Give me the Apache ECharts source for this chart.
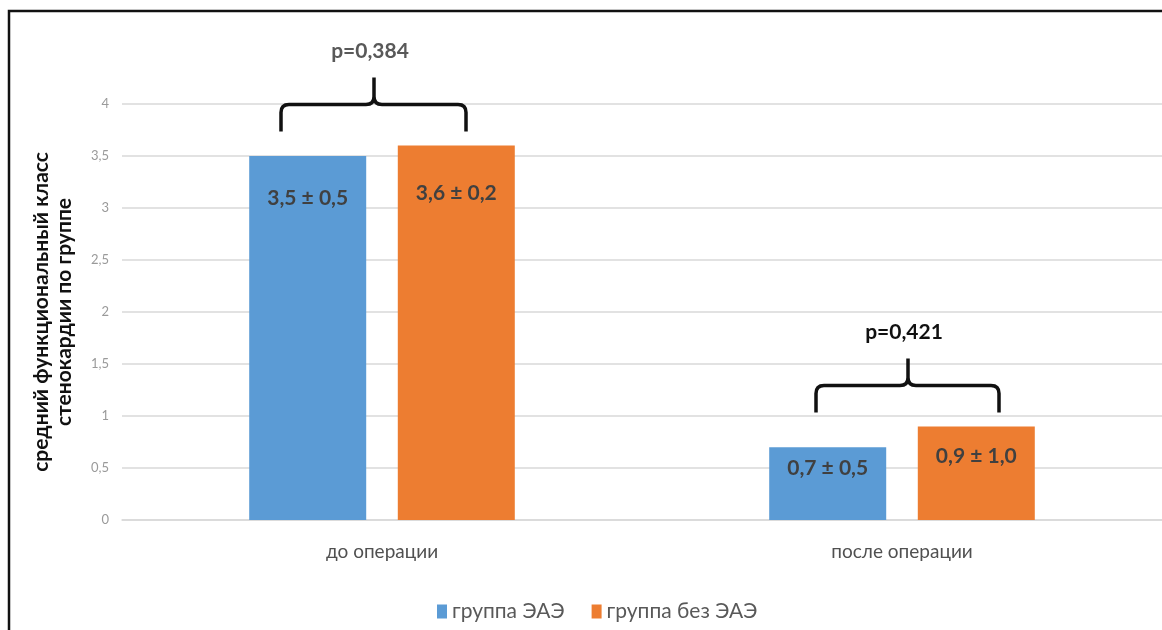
<!DOCTYPE html>
<html>
<head>
<meta charset="utf-8">
<script src="https://cdn.jsdelivr.net/npm/echarts@6/dist/echarts.min.js"></script>
<style>
  html, body { margin: 0; padding: 0; background: #ffffff; }
  #chart { width: 1162px; height: 630px; }
</style>
</head>
<body>
<div id="chart"></div>
<script>
// Mean angina functional class by group, before and after surgery
const categories = ['до операции', 'после операции'];
const seriesNames = ['группа ЭАЭ', 'группа без ЭАЭ'];
const meanEAE = [3.5, 0.7];
const sdEAE = [0.5, 0.5];
const meanNoEAE = [3.6, 0.9];
const sdNoEAE = [0.2, 1.0];
const pValues = [0.384, 0.421];
const yTicks = [0, 0.5, 1, 1.5, 2, 2.5, 3, 3.5, 4];

const FONT = 'Lato, "Open Sans", sans-serif';
const fmt = (v, d) => v.toFixed(d).replace('.', ',');

// label inset from the bar top, per category
const labelInset = [[32, 37], [11, 19]];
// brace geometry around each category, in pixels from the category centre
const braceSpan = [[-101, 84, -8], [-86, 97, 6]];
const pStyle = [
  { fill: '#595959', weight: 'bold' },
  { fill: '#111111', weight: 'bold' }
];

function barSeries(name, color, means, sds, seriesIdx) {
  return {
    name: name,
    type: 'bar',
    barWidth: '22.5%',
    barGap: '27%',
    itemStyle: { color: color },
    data: means.map((m, i) => ({
      value: m,
      label: {
        show: true,
        position: 'insideTop',
        distance: labelInset[i][seriesIdx],
        formatter: fmt(m, 1) + ' ± ' + fmt(sds[i], 1),
        color: '#404040',
        fontFamily: FONT,
        fontWeight: 'bold',
        fontSize: 21
      }
    }))
  };
}

const braceData = categories.map((c, i) => [i, Math.max(meanEAE[i], meanNoEAE[i]), pValues[i]]);

const chart = echarts.init(document.getElementById('chart'), null, { renderer: 'canvas' });

chart.setOption({
  backgroundColor: '#ffffff',
  animation: false,
  textStyle: { fontFamily: FONT },
  grid: { left: 122, right: -7, top: 104, bottom: 110, containLabel: false },
  legend: {
    data: seriesNames,
    left: 432,
    top: 596,
    itemWidth: 10,
    itemHeight: 14,
    itemGap: 27,
    icon: 'rect',
    textStyle: { color: '#595959', fontSize: 21, fontFamily: FONT }
  },
  xAxis: {
    type: 'category',
    data: categories,
    axisLine: { lineStyle: { color: '#d9d9d9', width: 1.5 } },
    axisTick: { show: false },
    axisLabel: { color: '#505050', fontSize: 19, margin: 22, fontFamily: FONT }
  },
  yAxis: {
    type: 'value',
    min: yTicks[0],
    max: yTicks[yTicks.length - 1],
    interval: yTicks[1] - yTicks[0],
    name: 'средний функциональный класс\nстенокардии по группе',
    nameLocation: 'middle',
    nameGap: 46,
    nameTextStyle: {
      color: '#111111',
      fontWeight: 'bold',
      fontSize: 21,
      lineHeight: 23,
      fontFamily: FONT
    },
    axisLine: { show: false },
    axisTick: { show: false },
    axisLabel: {
      color: '#9a9a9a',
      fontSize: 13,
      margin: 13,
      fontFamily: FONT,
      formatter: v => String(v).replace('.', ',')
    },
    splitLine: { lineStyle: { color: '#d9d9d9', width: 1.5 } }
  },
  graphic: [{
    type: 'rect',
    silent: true,
    shape: { x: 9, y: 11, width: 1200, height: 700 },
    style: { fill: 'none', stroke: '#111111', lineWidth: 2.5 },
    z: 100
  }],
  series: [
    barSeries(seriesNames[0], '#5b9bd5', meanEAE, sdEAE, 0),
    barSeries(seriesNames[1], '#ed7d31', meanNoEAE, sdNoEAE, 1),
    {
      name: 'p',
      type: 'custom',
      data: braceData,
      z: 10,
      renderItem: function (params, api) {
        const i = api.value(0);
        const top = api.coord([i, api.value(1)]);
        const cx = top[0];
        const xL = cx + braceSpan[i][0];
        const xR = cx + braceSpan[i][1];
        const xT = cx + braceSpan[i][2];
        const yB = top[1] - 14;
        const yH = top[1] - 41;
        const yT = top[1] - 68;
        const r = 8;
        const path =
          'M' + xL + ' ' + yB + ' L' + xL + ' ' + (yH + r) +
          ' Q' + xL + ' ' + yH + ' ' + (xL + r) + ' ' + yH +
          ' L' + (xT - r) + ' ' + yH +
          ' Q' + xT + ' ' + yH + ' ' + xT + ' ' + (yH - r) +
          ' L' + xT + ' ' + yT +
          ' M' + xR + ' ' + yB + ' L' + xR + ' ' + (yH + r) +
          ' Q' + xR + ' ' + yH + ' ' + (xR - r) + ' ' + yH +
          ' L' + (xT + r) + ' ' + yH +
          ' Q' + xT + ' ' + yH + ' ' + xT + ' ' + (yH - r);
        return {
          type: 'group',
          children: [
            {
              type: 'path',
              shape: { pathData: path },
              style: { fill: 'none', stroke: '#111111', lineWidth: 3.5 }
            },
            {
              type: 'text',
              x: xT - 4,
              y: top[1] - 94,
              style: {
                text: 'p=' + fmt(api.value(2), 3),
                fill: pStyle[i].fill,
                font: pStyle[i].weight + ' 21px ' + FONT,
                align: 'center',
                verticalAlign: 'middle'
              }
            }
          ]
        };
      }
    }
  ]
});
</script>
</body>
</html>
